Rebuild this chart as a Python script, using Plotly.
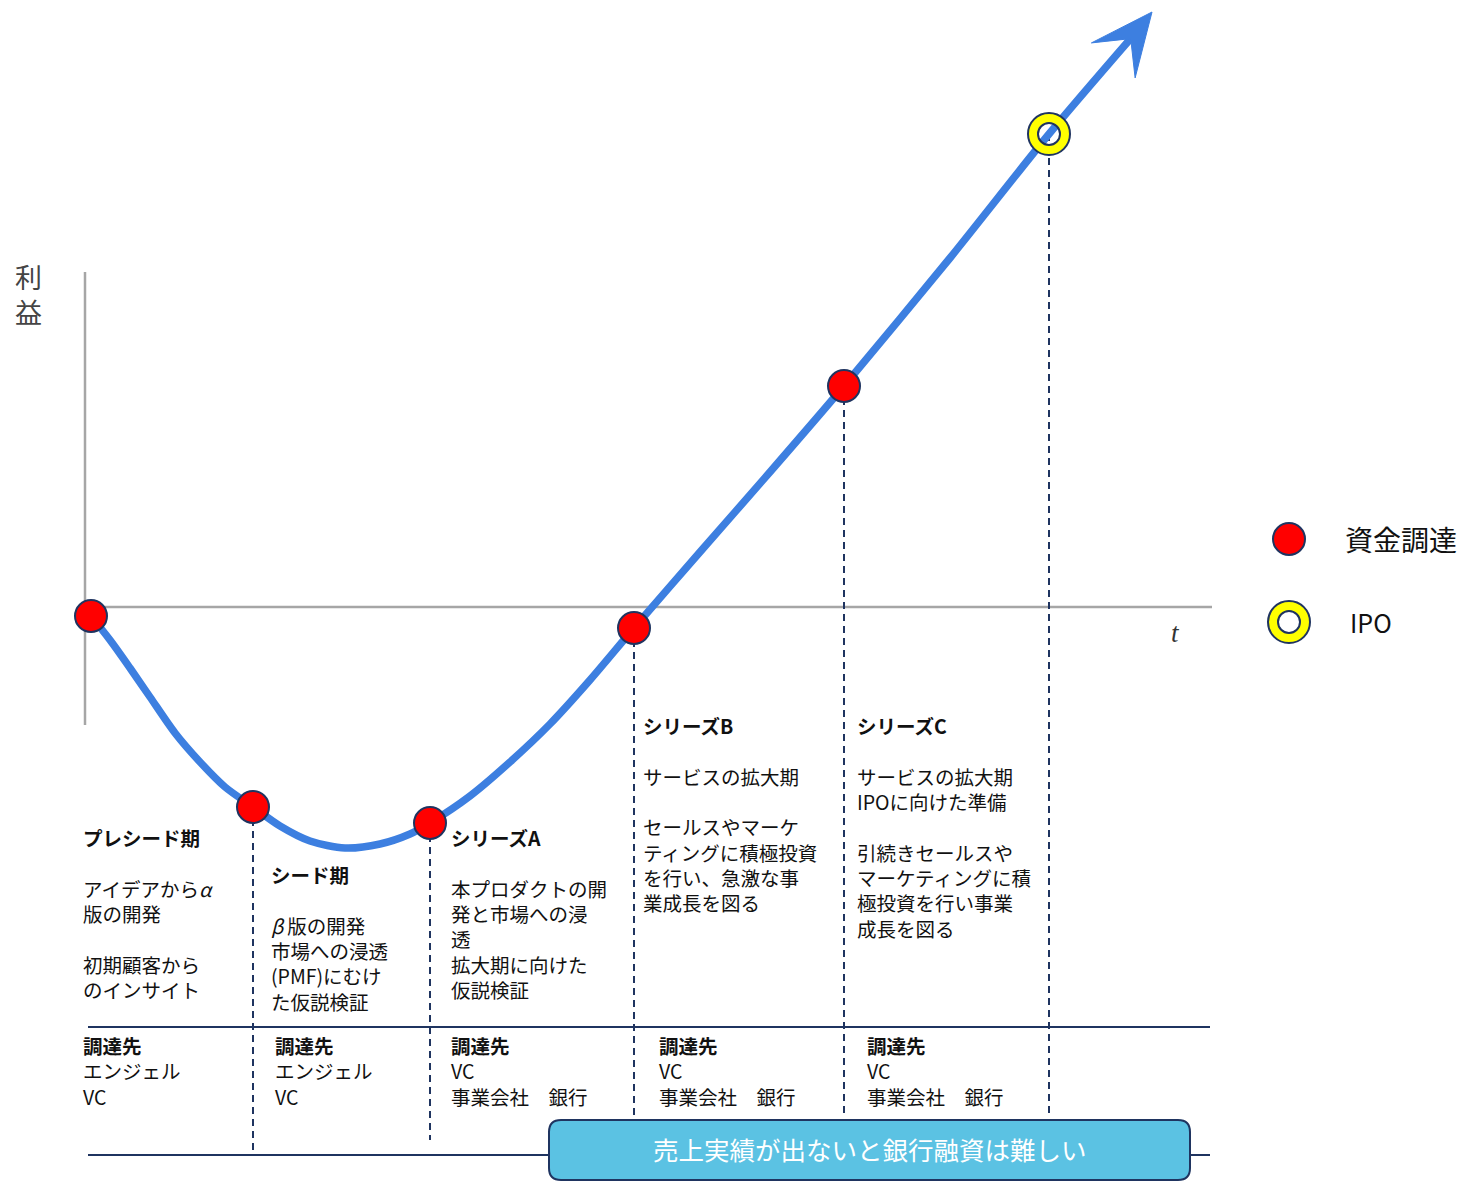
import plotly.graph_objects as go
import math

# ---------------- data (t / profit units, origin = axis cross) ----------------
curve_t = [0.06, 0.25, 0.45, 0.65, 0.90, 1.15, 1.40, 1.68, 1.95, 2.25, 2.60, 2.95,
           3.25, 3.45, 3.85, 4.25, 4.65, 5.05, 5.49, 6.15, 6.85, 7.59, 8.65, 9.64, 10.47]
curve_p = [-0.09, -0.33, -0.61, -0.90, -1.26, -1.55, -1.80, -2.00, -2.19, -2.34, -2.41, -2.37,
           -2.27, -2.16, -1.89, -1.55, -1.17, -0.73, -0.21, 0.55, 1.35, 2.21, 3.49, 4.73, 5.70]
arrow_tip = (10.67, 5.95)

fund_t = [0.06, 1.68, 3.45, 5.49, 7.59]
fund_p = [-0.09, -2.00, -2.16, -0.21, 2.21]
fund_drop_to = [None, -5.48, -5.33, -5.10, -5.10]

ipo_t = [9.64]
ipo_p = [4.73]
ipo_drop_to = [-5.10]

stage_titles = ["プレシード期", "シード期", "シリーズA", "シリーズB", "シリーズC"]
stage_bodies = [
    ["", "アイデアから<i>α</i>", "版の開発", "", "初期顧客から", "のインサイト"],
    ["", "<i>β</i>\u2009版の開発", "市場への浸透", "(PMF)にむけ", "た仮説検証"],
    ["", "本プロダクトの開", "発と市場への浸", "透", "拡大期に向けた", "仮説検証"],
    ["", "サービスの拡大期", "", "セールスやマーケ", "ティングに積極投資", "を行い、急激な事", "業成長を図る"],
    ["", "サービスの拡大期", "IPOに向けた準備", "", "引続きセールスや", "マーケティングに積", "極投資を行い事業", "成長を図る"],
]
funding_title = "調達先"
funding_sources = [
    ["エンジェル", "VC"],
    ["エンジェル", "VC"],
    ["VC", "事業会社\u3000銀行"],
    ["VC", "事業会社\u3000銀行"],
    ["VC", "事業会社\u3000銀行"],
]
legend_labels = ["資金調達", "IPO"]
y_label = "利益"
x_label = "t"
banner_text = "売上実績が出ないと銀行融資は難しい"

# ---------------- layout positions / styles ----------------
FONT = "Noto Sans CJK JP, Noto Sans, sans-serif"
BLUE = "#3d7fe0"
NAVY = "#1f3460"
RED = "#ff0000"
YELLOW = "#ffff00"
GRAY = "#a6a6a6"

stage_pos = [(-0.04, -2.135), (1.84, -2.505), (3.64, -2.135), (5.56, -1.015), (7.70, -1.015)]
fund_pos_x = [-0.04, 1.88, 3.64, 5.72, 7.80]
fund_pos_y = -4.215

fig = go.Figure()

shapes = []
# axes (gray cross)
shapes.append(dict(type="line", x0=0, x1=0, y0=-1.18, y1=3.35, line=dict(color=GRAY, width=2.5), layer="below"))
shapes.append(dict(type="line", x0=0, x1=11.27, y0=0, y1=0, line=dict(color=GRAY, width=2.5), layer="below"))
# table lines
shapes.append(dict(type="line", x0=0.03, x1=11.25, y0=-4.20, y1=-4.20, line=dict(color=NAVY, width=2), layer="below"))
shapes.append(dict(type="line", x0=0.03, x1=11.25, y0=-5.48, y1=-5.48, line=dict(color=NAVY, width=2), layer="below"))
# dashed drop lines
for t, p, b in zip(fund_t + ipo_t, fund_p + ipo_p, fund_drop_to + ipo_drop_to):
    if b is None:
        continue
    shapes.append(dict(type="line", x0=t, x1=t, y0=p, y1=b,
                       line=dict(color=NAVY, width=2, dash="7px,5px"), layer="below"))

# rounded banner box
bx0, bx1, by0, by1, r = 4.64, 11.05, -5.73, -5.13, 0.12
path = (f"M {bx0+r},{by1} L {bx1-r},{by1} Q {bx1},{by1} {bx1},{by1-r} "
        f"L {bx1},{by0+r} Q {bx1},{by0} {bx1-r},{by0} L {bx0+r},{by0} "
        f"Q {bx0},{by0} {bx0},{by0+r} L {bx0},{by1-r} Q {bx0},{by1} {bx0+r},{by1} Z")
shapes.append(dict(type="path", path=path, fillcolor="#5bc2e3", line=dict(color=NAVY, width=2), layer="above"))

# curve
fig.add_trace(go.Scatter(x=curve_t, y=curve_p, mode="lines",
                         line=dict(color=BLUE, width=7.5, shape="spline", smoothing=0.8),
                         hoverinfo="skip"))

# arrowhead computed from last segment direction
lx, ly = curve_t[-1], curve_p[-1]
tx, ty = arrow_tip
dx, dy = tx - lx, ty - ly
n = math.hypot(dx, dy)
ux, uy = dx / n, dy / n
nx, ny = -uy, ux
L, W = 0.62, 0.28
head_x = [tx, tx - L*ux + W*nx, tx - 0.55*L*ux, tx - L*ux - W*nx, tx]
head_y = [ty, ty - L*uy + W*ny, ty - 0.55*L*uy, ty - L*uy - W*ny, ty]
fig.add_trace(go.Scatter(x=head_x, y=head_y, mode="lines", fill="toself", fillcolor=BLUE,
                         line=dict(color=BLUE, width=1), hoverinfo="skip"))

# funding points
fig.add_trace(go.Scatter(x=fund_t, y=fund_p, mode="markers",
                         marker=dict(size=32, color=RED, line=dict(color=NAVY, width=2)), hoverinfo="skip"))


def ipo_ring(xs, ys, inner_fill=None):
    if inner_fill:
        fig.add_trace(go.Scatter(x=xs, y=ys, mode="markers",
                                 marker=dict(size=22, color=inner_fill), hoverinfo="skip"))
    fig.add_trace(go.Scatter(x=xs, y=ys, mode="markers",
                             marker=dict(size=32, symbol="circle-open", color=YELLOW, line=dict(width=10, color=YELLOW)),
                             hoverinfo="skip"))
    fig.add_trace(go.Scatter(x=xs, y=ys, mode="markers",
                             marker=dict(size=42, symbol="circle-open", color=NAVY, line=dict(width=2, color=NAVY)),
                             hoverinfo="skip"))
    fig.add_trace(go.Scatter(x=xs, y=ys, mode="markers",
                             marker=dict(size=22, symbol="circle-open", color=NAVY, line=dict(width=2, color=NAVY)),
                             hoverinfo="skip"))


ipo_ring(ipo_t, ipo_p)

# legend (manual)
leg_x = 12.04
leg_y = [0.68, -0.15]
fig.add_trace(go.Scatter(x=[leg_x], y=[leg_y[0]], mode="markers",
                         marker=dict(size=32, color=RED, line=dict(color=NAVY, width=2)), hoverinfo="skip"))
ipo_ring([leg_x], [leg_y[1]], inner_fill="white")

annotations = []
annotations.append(dict(x=12.58, y=leg_y[0], text=legend_labels[0], xanchor="left", yanchor="middle",
                        showarrow=False, font=dict(family=FONT, size=28, color="#111")))
annotations.append(dict(x=12.63, y=leg_y[1], text=legend_labels[1], xanchor="left", yanchor="middle",
                        showarrow=False, font=dict(family=FONT, size=25, color="#111")))

# axis labels
annotations.append(dict(x=-0.57, y=3.13, text="<br>".join(list(y_label)), xanchor="center", yanchor="middle",
                        showarrow=False, font=dict(family=FONT, size=27, color="#444")))
annotations.append(dict(x=10.90, y=-0.26, text=f"<i>{x_label}</i>", xanchor="center", yanchor="middle",
                        showarrow=False, font=dict(family="Liberation Serif, serif", size=27, color="#333")))

# stage texts
for title, body, (sx, sy) in zip(stage_titles, stage_bodies, stage_pos):
    txt = f"<b>{title}</b><br>" + "<br>".join(body)
    annotations.append(dict(x=sx, y=sy, text=txt, xanchor="left", yanchor="top", align="left",
                            showarrow=False, font=dict(family=FONT, size=19.5, color="#111")))

# funding texts
for src, fx in zip(funding_sources, fund_pos_x):
    txt = f"<b>{funding_title}</b><br>" + "<br>".join(src)
    annotations.append(dict(x=fx, y=fund_pos_y, text=txt, xanchor="left", yanchor="top", align="left",
                            showarrow=False, font=dict(family=FONT, size=19.5, color="#111")))

# banner text
annotations.append(dict(x=(bx0 + bx1) / 2, y=(by0 + by1) / 2 + 0.02, text=banner_text, xanchor="center",
                        yanchor="middle", showarrow=False, font=dict(family=FONT, size=25.5, color="white")))

fig.update_layout(
    width=1469, height=1182,
    margin=dict(l=0, r=0, t=0, b=0),
    paper_bgcolor="white", plot_bgcolor="white",
    showlegend=False,
    xaxis=dict(range=[-0.85, 13.84], visible=False, fixedrange=True),
    yaxis=dict(range=[-5.75, 6.07], visible=False, fixedrange=True),
    shapes=shapes,
    annotations=annotations,
)

fig.write_html("out.html")
